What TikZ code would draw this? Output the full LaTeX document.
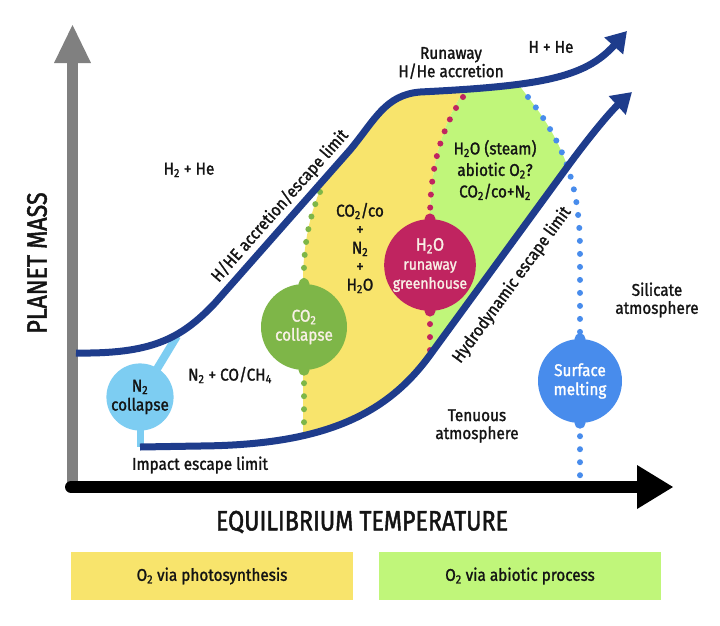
\documentclass[tikz,border=0pt]{standalone}
\usepackage{fontspec}
\setmainfont{Fira Sans}[FakeStretch=0.9,FakeBold=1.4]
\newfontfamily\axisfont{Fira Sans}[FakeStretch=0.83,FakeBold=1.6]
\usetikzlibrary{arrows.meta}
\pgfdeclarelayer{fills}
\pgfdeclarelayer{lines}
\pgfsetlayers{fills,lines,main}
\definecolor{navy}{RGB}{30,60,140}
\definecolor{yfill}{RGB}{248,228,108}
\definecolor{gfill}{RGB}{192,246,122}
\definecolor{redc}{RGB}{192,36,96}
\definecolor{grnc}{RGB}{126,182,72}
\definecolor{lblue}{RGB}{125,205,242}
\definecolor{bluec}{RGB}{72,140,236}
\definecolor{axgray}{RGB}{128,128,128}
\definecolor{ink}{RGB}{20,20,20}
\definecolor{paletxt}{RGB}{248,240,230}
\newcommand\ssb[1]{\textsubscript{#1}}
\begin{document}
\begin{tikzpicture}[x=1pt,y=-1pt,
  lbl/.style={font=\fontsize{17}{19}\selectfont, text=ink, align=center, inner sep=0pt},
  bubble/.style={circle, inner sep=0pt, align=center, font=\fontsize{17}{19}\selectfont},
  dotline/.style={line width=6pt, line cap=round, dash pattern=on 0pt off 13pt},
  navycurve/.style={draw=navy, line width=7pt},
  navyarrow/.style={-{Triangle[length=20pt,width=24pt]}},
  legbox/.style={minimum width=282pt, minimum height=48pt, inner sep=0pt, font=\fontsize{17}{19}\selectfont, text=ink},
  axlabel/.style={font=\axisfont\fontsize{28}{30}\selectfont, text=ink, inner sep=0pt}
]
\useasboundingbox (0,0) rectangle (720,625);

% circles
\node[bubble, fill=lblue, minimum size=66pt, text=ink] (n2) at (140,397) {N\ssb2\\collapse};
\node[bubble, fill=grnc, minimum size=86pt, text=paletxt] (co2) at (304,327) {CO\ssb2\\collapse};
\node[bubble, fill=redc, minimum size=86pt, text=paletxt] (h2o) at (430,265)
  {{\fontsize{18}{17}\selectfont H\ssb2O}\\{\fontsize{15.5}{16}\selectfont runaway}\\{\fontsize{15.5}{16}\selectfont greenhouse}};
\node[bubble, fill=bluec, minimum size=84pt, text=white] (melt) at (580,381) {Surface\\melting};

% anchor coordinates
\coordinate (gtop) at (320,192);
\coordinate (gbot) at (304,437);
\coordinate (rtop) at (463,97);
\coordinate (rbot) at (430,356);
\coordinate (btop) at (528,97);
\coordinate (bbot) at (580,481);
\coordinate (n2up) at (177,336);
\coordinate (impstart) at (140,447);

\begin{pgfonlayer}{fills}
\fill[white] (0,0) rectangle (720,625);
\begin{scope}
\clip (76,353) .. controls (150,354) and (180,340) .. (215,303) -- (350,150)
  .. controls (375,120) and (385,95) .. (420,92) .. controls (540,86) and (585,78) .. (627,31)
  -- (720,31) -- (720,92) -- (632,92) .. controls (610,112) and (590,136) .. (568,166)
  -- (430,355) .. controls (385,417) and (320,445) .. (200,446) -- (140,447) -- (76,447) -- cycle;
\fill[yfill] (335,150) -- (320,190) .. controls (308,220) and (303,250) .. (303,283) -- (303,470)
  -- (430,470) -- (430,222) .. controls (430,170) and (440,130) .. (463,92) -- (480,50) -- (335,50) -- cycle;
\fill[gfill] (463,92) -- (480,50) -- (505,50) -- (512,76) -- (528,97) .. controls (560,138) and (580,180) .. (580,250)
  -- (580,470) -- (430,470) -- (430,222) .. controls (430,170) and (440,130) .. (463,92) -- cycle;
\end{scope}
% axes
\fill[axgray] (67,62) rectangle (78,490);
\fill[axgray] (54,63) -- (72.5,25) -- (91,63) -- cycle;
\draw[black, line width=12pt, line cap=round] (71,487) -- (640,487);
\fill[black] (637,465) -- (673,487) -- (637,509) -- cycle;
\end{pgfonlayer}

\begin{pgfonlayer}{lines}
% dotted transition lines
\draw[dotline, grnc] (gtop) .. controls (308,220) and (303,250) .. (co2.north);
\draw[dotline, grnc] (co2.south) -- (gbot);
\draw[dotline, redc] (rtop) .. controls (440,130) and (430,170) .. (h2o.north);
\draw[dotline, redc] (h2o.south) -- (rbot);
\draw[dotline, bluec] (btop) .. controls (560,138) and (580,180) .. (580,250) -- (melt.north);
\draw[dotline, bluec] (melt.south) -- (bbot);
% nubs
\foreach \c/\col in {co2/grnc, h2o/redc, melt/bluec}{
  \fill[\col] (\c.north) circle[radius=5.5pt];
  \fill[\col] (\c.south) circle[radius=5.5pt];
}
% N2 connectors
\draw[lblue, line width=8pt] (n2.center) -- (n2up);
\draw[lblue, line width=7pt] (n2.center) -- (impstart);
% limits
\draw[navycurve, navyarrow] (76,353) .. controls (150,354) and (180,340) .. (215,303) -- (350,150)
  .. controls (375,120) and (385,95) .. (420,92) .. controls (540,86) and (585,78) .. (627,31);
\draw[navycurve, navyarrow] (impstart) -- (200,446) .. controls (320,445) and (385,417) .. (430,355)
  -- (568,166) .. controls (590,136) and (610,112) .. (632,92);
\end{pgfonlayer}

% labels
\node[lbl] (hhe) at (551,47) {H + He};
\node[lbl, font=\fontsize{17}{17}\selectfont] (runaway) at (451,63) {Runaway\\H/He accretion};
\node[lbl] (h2he) at (189,170) {H\ssb2 + He};
\node[lbl, font=\fontsize{17}{18.5}\selectfont] (mix) at (360,248) {CO\ssb2/co\\+\\N\ssb2\\+\\H\ssb2O};
\node[lbl, font=\fontsize{17}{21.5}\selectfont] (steam) at (495,170) {H\ssb2O (steam)\\abiotic O\ssb2?\\CO\ssb2/co+N\ssb2};
\node[lbl] (n2co) at (230,375) {N\ssb2 + CO/CH\ssb4};
\node[lbl] (impact) at (200,465) {Impact escape limit};
\node[lbl, font=\fontsize{17}{18}\selectfont] (tenuous) at (477,426) {Tenuous\\atmosphere};
\node[lbl, font=\fontsize{17}{18}\selectfont] (silicate) at (657,300) {Silicate\\atmosphere};
\node[lbl, rotate=48.5] (hhelim) at (280,206) {H/HE accretion/escape limit};
\node[lbl, rotate=53.9] (hydrolim) at (512,285) {Hydrodynamic escape limit};

% axis titles
\node[axlabel, rotate=90] (ylab) at (37,263) {PLANET MASS};
\node[axlabel] (xlab) at (362,522) {EQUILIBRIUM TEMPERATURE};

% legend
\node[legbox, fill=yfill] (leg1) at (212,576) {O\ssb2 via photosynthesis};
\node[legbox, fill=gfill] (leg2) at (520,576) {O\ssb2 via abiotic process};
\end{tikzpicture}
\end{document}
